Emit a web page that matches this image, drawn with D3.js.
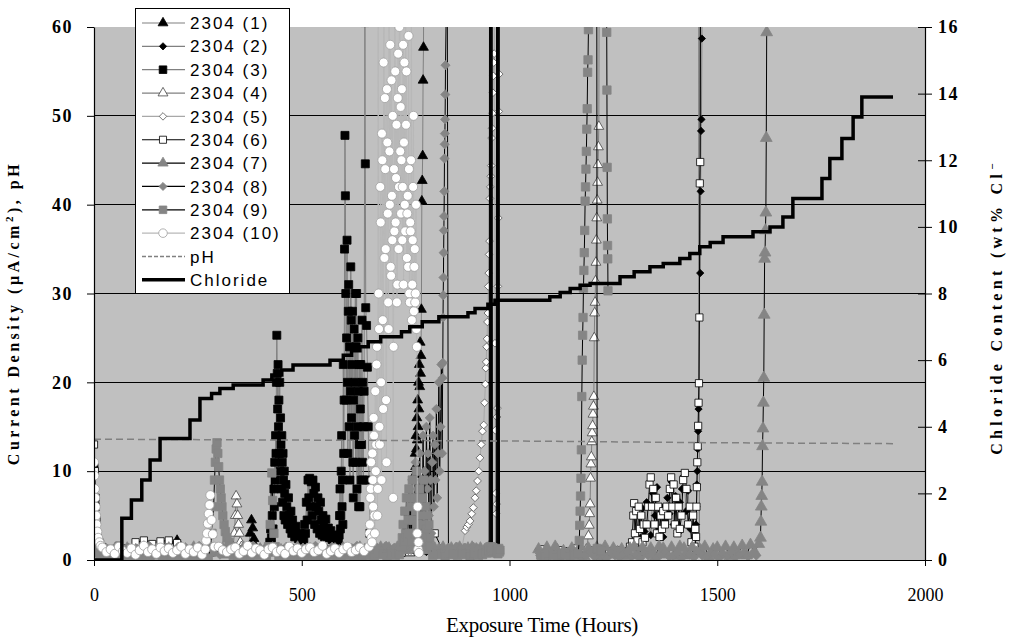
<!DOCTYPE html>
<html>
<head>
<meta charset="utf-8">
<title>2304 specimens: current density, pH and chloride content</title>
<script src="https://d3js.org/d3.v7.min.js"></script>
<style>
  body { margin: 0; background: #fff; }
  svg { display: block; }
  .serif { font-family: 'Liberation Serif', 'Times New Roman', serif; }
  .legend text { font-family: 'Liberation Sans', Arial, sans-serif; font-size: 17px; letter-spacing: 2px; }
</style>
</head>
<body>
<script>
// ---------- data (hours, current density µA/cm², pH, chloride wt%) ----------
const legendNames = ['2304 (1)', '2304 (2)', '2304 (3)', '2304 (4)', '2304 (5)', '2304 (6)',
                     '2304 (7)', '2304 (8)', '2304 (9)', '2304 (10)', 'pH', 'Chloride'];
const xTicks = [0, 500, 1000, 1500, 2000];
const yTicks = [0, 10, 20, 30, 40, 50, 60];
const yRightTicks = [0, 2, 4, 6, 8, 10, 12, 14, 16];

const chlorideHours = [0, 67, 90, 115, 135, 159, 231, 255, 283, 303, 335, 407, 428, 452, 479, 568, 600, 620, 640, 660, 690,
  740, 760, 790, 830, 900, 917, 948, 965, 1097, 1122, 1146, 1170, 1194, 1266, 1300, 1338, 1370, 1410, 1434, 1458,
  1483, 1514, 1586, 1627, 1658, 1682, 1752, 1771, 1800, 1827, 1848, 1923];
const chlorideValues = [0, 1.25, 1.8, 2.4, 3.0, 3.65, 4.2, 4.85, 5.0, 5.15, 5.25, 5.4, 5.55, 5.7, 5.85, 6.0, 6.15, 6.28, 6.4, 6.55, 6.7,
  6.85, 7.0, 7.15, 7.3, 7.42, 7.55, 7.68, 7.8, 7.9, 8.03, 8.15, 8.25, 8.3, 8.5, 8.65, 8.8, 8.9, 9.05, 9.2, 9.4,
  9.53, 9.7, 9.85, 10.0, 10.3, 10.85, 11.45, 12.05, 12.65, 13.3, 13.9, 13.9];

const phHours = [0, 500, 1000, 1500, 1923];
const phValues = [13.6, 13.5, 13.4, 13.2, 13.1];

// data logger was off between these hours
const loggerGap = [980, 1065];

// specimen 1
const s1Base = [3.0, 1.0, 0.8, 1.2, 0.9, 2.2, 0.7, 1.3, 1.0, 0.8, 1.2, 0.9, 1.1, 0.8, 1.0, 1.3, 0.9, 1.2, 1.0, 0.8]; // every 40 h from 0
const s1BumpH = [372, 376, 379, 382, 385, 390];
const s1BumpV = [1.5, 3.0, 4.5, 3.6, 2.4, 1.4];
const s1SpikeH = [765, 768, 770, 772, 773, 774, 775, 776, 777, 778, 779, 780, 781, 782, 783, 784, 785, 786, 787, 788, 789, 790, 791, 792, 793, 794];
const s1SpikeV = [1.5, 3, 6, 9.6, 12, 10.5, 14, 12.5, 16, 13.5, 18, 15, 20, 17, 22, 19.5, 24.5, 21, 23, 28.2, 40.4, 42.7, 45.5, 54, 57.7, 70];

// specimen 2
const s2BaseA = [2.0, 0.9, 1.1, 0.8, 1.2, 1.0, 0.7, 1.3, 0.9, 1.1, 0.8, 1.0, 1.2, 0.9, 1.1, 0.7, 1.0, 1.3, 0.8, 1.1, 0.9, 1.2, 1.0, 0.8]; // every 40 h from 0
const s2BaseB = [1.2, 0.9, 1.1, 1.3, 0.8, 1.0, 1.2]; // every 40 h from 1070
const s2OscH = [1315, 1320, 1325, 1330, 1335, 1340, 1345, 1350, 1355, 1360, 1365, 1370, 1375, 1380, 1385, 1390, 1395, 1400, 1405, 1410, 1415, 1420, 1425, 1430, 1435, 1440, 1445];
const s2OscV = [2.5, 5.8, 3.2, 6.5, 4.0, 2.8, 7.5, 5.0, 8.2, 3.5, 6.0, 2.6, 4.5, 7.0, 5.2, 8.8, 4.0, 7.2, 3.0, 6.5, 8.0, 9.5, 5.5, 7.8, 3.5, 2.0, 1.2];
const s2SpikeH = [1447, 1448, 1449, 1450, 1451, 1452, 1453, 1454, 1455, 1456, 1457, 1458, 1459, 1460, 1461, 1462, 1463, 1464];
const s2SpikeV = [1.5, 2.5, 4, 6, 8.5, 10, 12.5, 14.5, 17, 70, 0.8, 70, 32.3, 41.5, 48.3, 49.6, 58.7, 70];

// specimen 3
const s3StartH = [0, 3, 6, 10, 20];
const s3StartV = [10.5, 6, 3, 1.5, 1.1];
const s3Base = [1.2, 0.9, 1.1, 0.8, 1.0, 1.2, 0.9, 1.1, 1.0, 0.8]; // every 40 h from 40
const s3FirstH = [420, 423, 425, 427, 429, 431, 433, 434, 435, 436, 437, 438, 439, 440, 441, 442, 443, 444, 445, 446,
  447, 448, 449, 450, 451, 452, 453, 454, 455, 456, 457, 458, 459, 460, 462, 464, 466, 468, 470, 472,
  474, 476, 478, 480, 483, 486, 489, 492, 496, 500];
const s3FirstV = [1.2, 2, 3.5, 2.5, 5, 3.5, 8, 6, 11, 9, 14, 12, 20, 25.3, 21, 17, 22, 15, 18, 12,
  20, 10, 16, 13, 8, 14, 11, 6.5, 12, 9, 5, 10, 7.5, 4.5, 8.5, 6, 4, 7, 5, 3.5,
  5.5, 3, 4.5, 3.4, 2.6, 3.8, 2.8, 2.4, 3, 2.2];
const s3SecondH = [505, 507, 509, 511, 513, 515, 517, 519, 521, 523, 525, 527, 529, 531, 533, 535, 537, 539, 541, 543,
  545, 547, 549, 551, 553, 555, 558, 561, 564, 567, 570, 573, 576, 579, 582, 585, 588];
const s3SecondV = [2.4, 4, 3, 6.5, 4.5, 9, 7, 9.2, 6, 8.8, 5, 9, 7.5, 4, 8.2, 6, 3.5, 7, 5.5, 3,
  6.5, 4.5, 2.8, 5, 3.8, 2.6, 4.6, 3, 3.6, 2.5, 3.3, 2.3, 2.8, 2.2, 2.6, 2.2, 2.4];
const s3ThirdH = [590, 591, 592, 593, 594, 595, 596, 597, 598, 599, 600, 601, 602, 603, 604, 605, 606, 607, 608, 609,
  610, 611, 612, 613, 614, 615, 616, 617, 618, 619, 620, 621, 622, 623, 624, 625, 626, 627, 628, 629,
  630, 631, 632, 633, 634, 635, 636, 637, 638, 639, 640, 641, 642, 643, 644, 645, 646, 647, 648, 649,
  650, 652, 653, 654, 656, 658, 660, 662, 664];
const s3ThirdV = [2.8, 5, 8, 3.5, 5, 10, 14, 6, 9, 4, 22, 12, 18, 35, 47.8, 41, 30, 18, 25, 36,
  20, 12, 28, 31, 15, 24, 9, 19, 33, 27, 16, 22, 28, 11, 7, 18, 26, 14, 20, 30,
  11, 24, 30, 8, 15, 25, 19, 6, 13, 22, 6, 17, 22, 9, 13, 27, 11, 20, 9, 15,
  19, 60.5, 44.6, 28.4, 26.4, 21.7, 15, 9, 3];

// specimen 4
const s4BaseA = [1.5, 1.0, 0.8, 1.2, 0.9, 1.1, 1.3, 0.8, 1.0, 1.2, 0.9, 1.1, 0.8, 1.0, 1.2, 0.9, 1.1, 1.3, 1.0, 0.8, 1.2, 0.9, 1.1, 1.0, 0.8]; // every 40 h from 0
const s4BaseB = [1.0, 1.2, 0.9]; // every 40 h from 1075
const s4BumpH = [335, 338, 340, 342, 344, 346, 348, 350, 352, 355];
const s4BumpV = [1.5, 3, 5, 7.2, 6.3, 5, 4, 3, 2, 1.5];
const s4SpikeH = [1185, 1190, 1192, 1193, 1194, 1195, 1196, 1197, 1198, 1199, 1200, 1201, 1202, 1203, 1204, 1205, 1206, 1207, 1208, 1209,
  1210, 1211, 1212, 1213, 1214, 1215, 1216];
const s4SpikeV = [1.2, 2.7, 3.9, 5.2, 6.3, 9.2, 10.8, 11.6, 13.3, 14.3, 15.1, 16.4, 17.3, 18.4, 25, 27.8, 29, 31.4, 33.5, 36,
  38.5, 40.5, 42.5, 44.5, 46.5, 48.8, 70];

// specimen 5
const s5Base = [4.0, 1.0, 0.8, 1.2, 0.9, 1.1, 0.7, 1.0, 1.3, 0.9, 1.1, 0.8, 1.2, 1.0, 0.9, 1.1, 0.8, 1.2, 1.0, 0.9, 1.1, 0.8, 1.0]; // every 40 h from 0
const s5SpikeH = [885, 893, 897, 901, 905, 909, 913, 917, 920, 923, 926, 929, 932, 935, 938, 940, 942, 943, 944, 945,
  946, 947, 948, 949, 950, 951, 952, 953, 954, 955, 956, 957, 958, 959, 960, 961, 962, 963, 964, 965,
  966, 967, 968, 969, 970, 971, 972, 973, 974, 975, 976];
const s5SpikeV = [1.2, 3.3, 3.7, 4.0, 4.4, 5.2, 5.9, 7.0, 7.8, 8.9, 10, 11.5, 13, 14.5, 15.2, 17.7, 19.8, 21.6, 22.3, 24,
  24.9, 26.8, 27.8, 30.8, 32.3, 34.4, 35.9, 40.7, 42, 43.2, 44.4, 47.5, 48.6, 50.3, 52.6, 54.5, 56, 57, 70, 24.4,
  14.6, 7.5, 5.2, 6.3, 16.1, 17.1, 30.8, 38.5, 50.5, 54.7, 70];

// specimen 6
const s6StartH = [0, 2, 4, 6, 9, 13];
const s6StartV = [13, 10, 7, 4.5, 2.5, 1.5];
const s6BaseA = [1.4, 1.2, 1.6, 1.3, 2.0, 2.2, 1.8, 2.1, 2.2, 1.9, 1.0, 0.8, 1.2, 0.9, 1.1, 0.7, 1.0, 1.2, 0.8, 1.1,
  0.9, 1.0, 1.2, 0.8, 1.1, 0.9, 1.0, 1.2, 0.9, 1.1, 0.8, 1.0, 1.2, 0.9, 1.1, 1.0, 0.8, 1.2, 0.9, 1.1,
  3.0, 1.0, 1.2, 0.9, 1.1, 1.0, 0.8, 1.2]; // every 20 h from 20
const s6BaseB = [1.2, 0.9, 1.1, 1.0, 1.3, 0.8, 1.1, 1.2, 1.0, 1.1]; // every 20 h from 1080
const s6OscH = [1290, 1295, 1298, 1300, 1302, 1305, 1308, 1311, 1314, 1317, 1320, 1323, 1326, 1330, 1334, 1337, 1340, 1343, 1346, 1349,
  1352, 1355, 1358, 1361, 1364, 1367, 1370, 1374, 1378, 1382, 1386, 1389, 1392, 1395, 1398, 1401, 1404, 1407, 1410, 1414,
  1418, 1422, 1426, 1430, 1434, 1438, 1442, 1445, 1447, 1449, 1450, 1451, 1452, 1453, 1454, 1455, 1456, 1457, 1458, 1459, 1460];
const s6OscV = [1.5, 2, 5, 6.4, 3, 5.5, 2.2, 6, 3.5, 5, 2, 4, 2.5, 4, 6, 8.5, 9.3, 6, 8, 4,
  7, 3, 6, 2.6, 5, 3.5, 5.5, 4, 6, 5, 8, 9.3, 6, 8.5, 4, 7, 3, 6, 3.5, 5,
  9, 9.8, 8, 4, 6, 2, 5, 1.5, 3.5, 2.6, 6, 8.2, 11, 12.8, 15.1, 17.7, 19.9, 27.3, 42.4, 44.8, 70];

// specimen 7
const s7BandA = [6.0, 2.6, 1.5, 1.1, 0.8, 1.2, 0.7, 1.0, 1.3, 0.6,
  1.1, 0.9, 1.4, 0.7, 1.0, 1.2, 0.5, 0.9, 1.3, 0.8,
  1.1, 0.6, 1.2, 0.9, 1.4, 0.7, 1.0, 1.2, 0.8, 1.1,
  0.9, 1.3, 0.6, 1.0, 1.2, 0.8, 1.4, 0.7, 1.1, 0.9,
  1.2, 0.6, 1.0, 1.3, 0.8, 1.1, 0.7, 1.2, 0.9, 1.4,
  0.8, 1.0, 1.2, 0.6, 1.1, 1.3, 0.9, 0.7, 1.2, 1.0,
  1.3, 0.8, 1.1, 0.9, 1.4, 1.0, 1.2, 1.3, 1.1, 1.4,
  1.2, 1.3, 1.0, 1.4, 1.2, 1.1, 1.3, 1.4, 1.2, 1.3,
  1.1, 1.4, 1.3, 1.2, 1.4, 1.0, 1.3, 1.2, 1.4, 1.1,
  1.3, 1.4, 1.2, 1.3, 1.1, 1.4, 1.2, 1.3]; // every 10 h from 0
const s7BandB = [1.2, 0.4, 1.4, 0.6, 1.5, 0.3, 1.0, 0.7, 1.3, 0.5,
  1.5, 0.4, 1.3, 0.8, 1.4, 0.3, 1.5, 0.6, 1.3, 0.9,
  1.2, 0.4, 1.3, 1.5, 0.5, 1.4, 0.7, 1.3, 0.3, 1.5,
  1.3, 0.6, 1.4, 0.4, 1.5, 1.3, 0.5, 1.4, 0.8, 1.1,
  1.5, 0.3, 1.2, 1.4, 0.6, 1.5, 0.4, 1.4, 0.7, 1.6,
  0.5, 1.7, 0.9, 1.8]; // every 10 h from 1070
const s7SpikeH = [1604, 1605, 1606, 1607, 1608, 1609, 1610, 1611, 1612, 1613, 1614, 1615, 1616, 1617, 1618, 1619, 1620];
const s7SpikeV = [2.5, 4.3, 6, 7.2, 8.8, 12.8, 14.8, 17.7, 20.5, 27.6, 33.9, 34.6, 37.1, 39.1, 47.5, 59.4, 70];

// specimen 8
const s8BandA = [1.6, 1.0, 0.7, 1.2, 0.9, 1.5, 0.6, 1.1, 1.4, 0.8,
  1.3, 0.5, 1.0, 1.6, 0.7, 1.2, 0.9, 1.4, 0.6, 1.1,
  1.5, 0.8, 1.3, 0.5, 1.0, 1.6, 0.7, 1.2, 0.9, 1.4,
  0.6, 1.1, 1.5, 0.8, 1.3, 1.0, 0.5, 1.2, 1.6, 0.7,
  1.1, 1.4, 0.9, 1.3, 0.6, 1.0, 1.5, 0.8, 1.2, 0.7,
  1.4, 1.1, 0.9, 1.6, 1.0, 1.3, 0.8, 1.5, 1.2, 1.0,
  1.4, 1.1, 1.3, 1.6, 1.2, 1.4, 1.0, 1.5, 1.3, 1.1,
  1.6, 1.2, 1.4, 1.3, 1.5, 1.2, 1.4, 1.3, 1.5, 1.1,
  1.4, 1.2, 1.5, 1.3, 1.1, 1.4, 1.2, 1.5, 1.3, 1.4,
  1.2, 1.5, 1.3, 1.1, 1.4, 1.2, 1.5, 1.3]; // every 10 h from 3
const s8BandB = [0.5, 0.8, 0.3, 0.6, 0.9, 0.4, 0.7, 0.2, 0.6, 0.8,
  0.3, 0.5, 0.9, 0.4, 0.7, 0.6, 0.2, 0.8, 0.5, 0.3,
  0.7, 0.9, 0.4, 0.6, 0.2, 0.8, 0.5, 0.7, 0.3, 0.6,
  0.9, 0.4, 0.5, 0.8, 0.2, 0.7, 0.6, 0.3, 0.9, 0.5,
  0.4, 0.8, 0.6, 0.2, 0.7, 0.5, 0.9, 0.3, 0.6, 0.8,
  0.4, 0.7, 0.5]; // every 10 h from 1074
const s8MassH = [750, 752, 754, 756, 758, 760, 762, 764, 766, 768, 770, 772, 774, 776, 778, 780, 782, 784, 786, 788,
  790, 792, 794, 796, 798, 800, 802, 804, 806, 808, 810, 812, 814, 816, 818, 820, 822, 824, 826, 828,
  830, 832, 834, 836, 838, 839, 839.5, 840, 840.5, 841, 841.5, 842, 842.5, 843, 843.5, 844, 844.5, 845, 845.5, 846,
  850];
const s8MassV = [1.5, 3, 2, 5, 3.5, 7, 4, 2.5, 9, 5, 3, 6, 11, 4, 8, 2.5, 7, 12, 5, 9,
  3.5, 14, 6, 10, 4, 15, 8, 12, 5, 16, 9, 3, 11, 14, 6, 13, 9, 17, 7, 12,
  20, 10, 15, 22, 12, 20.5, 22.2, 27.3, 29.8, 31.8, 34.6, 37.1, 38.7, 41.5, 45.2, 46.8, 48, 49.6, 52.4, 55.7,
  70];

// specimen 9
const s9BandA = [0.8, 0.5, 0.3, 0.6, 0.4, 0.7, 0.2, 0.5, 0.6, 0.3,
  0.7, 0.4, 0.5, 0.2, 0.6, 0.8, 0.3, 0.5, 0.4, 0.7,
  0.2, 0.6, 0.5, 0.3, 0.8, 0.4, 0.6, 0.2, 0.5, 0.7,
  0.3, 0.4, 0.6, 0.5, 0.2, 0.7, 0.4, 0.3, 0.6, 0.5,
  0.8, 0.2, 0.4, 0.6, 0.3, 0.7, 0.5, 0.4, 0.2, 0.6,
  0.5, 0.3, 0.7, 0.4, 0.6, 0.2, 0.5, 0.8, 0.3, 0.4,
  0.6, 0.5, 0.2, 0.7, 0.4, 0.6, 0.5, 0.3, 0.7, 0.6,
  0.4, 0.8, 0.5, 0.6, 0.3, 0.7, 0.5, 0.8, 0.4, 0.6,
  0.7, 0.5, 0.8, 0.6, 0.4, 0.7, 0.6, 0.5, 0.8, 0.6,
  0.4, 0.7, 0.5, 0.6, 0.8, 0.5, 0.7]; // every 10 h from 5
const s9BandB = [0.6, 0.4, 0.7, 0.5, 0.3, 0.6, 0.8, 0.4, 0.5, 0.7]; // every 10 h from 1075
const s9PeakH = [280, 284, 288, 290, 292, 294, 296, 298, 300, 302, 304, 306, 308, 310, 313, 316, 320, 325, 330];
const s9PeakV = [1.5, 3, 6, 9, 11, 12.5, 13.2, 12, 10.5, 9, 8, 7, 6, 5, 4, 3.2, 2.5, 2, 1.5];
const s9SmallH = [420, 424, 428, 430, 433, 436];
const s9SmallV = [1.5, 4, 9.8, 6.7, 3, 1.5];
const s9MassH = [740, 742, 744, 746, 748, 750, 752, 754, 756, 758, 760, 762, 764, 766, 768, 770, 772, 774, 776, 778,
  780, 782, 784, 786, 788, 790, 792, 794, 796, 798, 800, 802, 804, 806, 808, 810];
const s9MassV = [1.5, 2.5, 4, 2, 5.5, 3, 7, 2.5, 4.5, 8, 3, 6, 2, 9, 4.5, 7, 3, 5.5, 10, 4,
  6.5, 2.5, 8, 5, 3, 7, 4, 9, 2.5, 6, 3.5, 5, 2, 4, 2.5, 1.5];
const s9OscH = [951, 952, 953, 954, 955, 956, 957, 958, 959, 960, 968, 969, 970, 971, 972, 973, 974, 975, 976, 977];
const s9OscV = [1, 70, 1.5, 70, 0.8, 70, 1.2, 70, 1.0, 1.4, 1.2, 70, 1.0, 70, 0.7, 70, 1.3, 70, 0.9, 1.1];
const s9ColumnH = [1168, 1169, 1170, 1171, 1172, 1173, 1174, 1175, 1176, 1177, 1178, 1179, 1180, 1181, 1182, 1183, 1184, 1185, 1186, 1187,
  1188, 1189, 1190];
const s9ColumnV = [2.2, 3.9, 5.5, 7.2, 9.2, 12.4, 18.4, 22.5, 25.3, 27.3, 30.6, 32.6, 34.6, 37.1, 40.4, 42, 44, 46, 48.5, 50.8,
  54.9, 56.3, 59.7];
const s9LateH = [1191, 1210, 1211, 1220, 1225, 1233, 1234, 1234.5, 1235, 1235.5, 1236, 1236.5, 1237];
const s9LateV = [70, 70, 1.3, 1.0, null, 70, 59.4, 52.9, 44.2, 38.4, 35.4, 33.9, 30.3];

// specimen 10
const s10StartH = [0, 1, 2, 3, 4, 5, 6, 8, 10, 13, 16];
const s10StartV = [11, 9.5, 8, 7, 6, 5, 4, 3.2, 2.5, 2, 1.6];
const s10Band = [1.4, 0.9, 1.2, 0.7, 1.5, 1.0, 0.8, 1.3, 0.6, 1.1,
  1.6, 0.9, 1.2, 0.7, 1.4, 1.0, 1.3, 0.8, 1.1, 1.5,
  0.7, 1.2, 0.9, 1.4, 0.6, 1.0, 1.3, 0.8, 1.5, 1.1,
  0.9, 1.2, 1.4, 0.7, 1.0, 1.6, 0.8, 1.3, 1.1, 0.6,
  1.2, 1.4, 0.9, 1.1, 0.7, 1.5, 1.0, 1.3, 0.8, 1.2,
  1.4, 0.9, 1.1, 1.6, 0.7, 1.0, 1.3, 0.8, 1.2, 1.5,
  0.9, 1.1, 1.4, 1.0]; // every 10 h from 20
const s10BumpH = [268, 270, 272, 274, 276, 278, 280, 283, 286, 290];
const s10BumpV = [1.2, 2.2, 3, 4.1, 5.2, 6.2, 7.3, 4.5, 2.9, 1.5];
const s10MassH = [662, 664, 666, 668, 670, 672, 674, 676, 678, 680, 682, 684, 686, 688, 690, 692, 694, 696, 698, 700,
  702, 704, 706, 708, 710, 712, 714, 716, 718, 720, 722, 724, 726, 728, 730, 732, 734, 736, 738, 740,
  742, 744, 746, 748, 750, 752, 754, 756, 758, 760, 762, 764, 766, 768, 770, 772, 774, 776, 778, 780, 782];
const s10MassV = [1.5, 4, 8, 2.5, 12, 6, 14, 3, 10, 22, 5, 70, 26, 13, 38, 9, 45, 17, 70, 52,
  35, 11, 47, 29, 70, 40, 33, 54, 36, 7, 44, 70, 38, 49, 31, 57, 42, 70, 51, 45,
  36, 58, 47, 40, 70, 55, 39, 33, 44, 29, 37, 70, 31, 42, 28, 35, 30, 26, 3, 1.2, 0.8];
const s10MassOddH = [663, 665, 667, 669, 671, 673, 675, 677, 679, 681, 683, 685, 687, 689, 691, 693, 695, 697, 699, 701,
  703, 705, 707, 709, 711, 713, 715, 717, 719, 721, 723, 725, 727, 729, 731, 733, 735, 737, 739, 741,
  743, 745, 747, 749, 751, 753, 755, 757, 759, 761, 763, 765, 767, 769, 771, 773, 775, 777, 779, 781];
const s10MassOddV = [3, 7, 11, 2, 9, 16, 5, 19, 13, 24, 8, 30, 15, 42, 20, 48, 27, 56, 34, 44,
  18, 53, 39, 26, 46, 58, 32, 41, 50, 24, 37, 55, 43, 29, 52, 35, 60, 46, 39, 53,
  42, 31, 56, 37, 49, 34, 41, 59, 30, 38, 45, 27, 36, 50, 33, 29, 40, 24, 6, 2];

// ---------- assemble ----------
const at = (start, step, vals) => vals.map((v, i) => [start + i * step, v]);
const zip = (hs, vs) => hs.map((h, i) => [h, vs[i]]);
function assemble(readings, events) {
  const spans = events.map(e => [e[0][0], e[e.length - 1][0]]);
  const kept = readings.flat().filter(([h]) => !spans.some(([a, b]) => h >= a && h <= b));
  const gapBreak = [(loggerGap[0] + loggerGap[1]) / 2, null];
  return kept.concat(events.flat(), [gapBreak]).sort((a, b) => a[0] - b[0]);
}

const seriesData = [
  assemble([at(0, 40, s1Base)], [zip(s1BumpH, s1BumpV), zip(s1SpikeH, s1SpikeV)]),
  assemble([at(0, 40, s2BaseA), at(1070, 40, s2BaseB)], [zip(s2OscH, s2OscV), zip(s2SpikeH, s2SpikeV)]),
  assemble([at(40, 40, s3Base)], [zip(s3StartH, s3StartV), zip(s3FirstH, s3FirstV), zip(s3SecondH, s3SecondV), zip(s3ThirdH, s3ThirdV)]),
  assemble([at(0, 40, s4BaseA), at(1075, 40, s4BaseB)], [zip(s4BumpH, s4BumpV), zip(s4SpikeH, s4SpikeV)]),
  assemble([at(0, 40, s5Base)], [zip(s5SpikeH, s5SpikeV)]),
  assemble([at(20, 20, s6BaseA), at(1080, 20, s6BaseB)], [zip(s6StartH, s6StartV), zip(s6OscH, s6OscV)]),
  assemble([at(0, 10, s7BandA), at(1070, 10, s7BandB)], [zip(s7SpikeH, s7SpikeV)]),
  assemble([at(3, 10, s8BandA), at(1074, 10, s8BandB)], [zip(s8MassH, s8MassV)]),
  assemble([at(5, 10, s9BandA), at(1075, 10, s9BandB)], [zip(s9PeakH, s9PeakV), zip(s9SmallH, s9SmallV),
    zip(s9MassH, s9MassV), zip(s9OscH, s9OscV), zip(s9ColumnH, s9ColumnV), zip(s9LateH, s9LateV)]),
  assemble([at(20, 10, s10Band)], [zip(s10StartH, s10StartV), zip(s10BumpH, s10BumpV),
    zip(s10MassH, s10MassV), zip(s10MassOddH, s10MassOddV)])
];

// ---------- styles ----------
const diamond = d3.symbolDiamond2 || d3.symbolDiamond;
const seriesStyle = [
  { line: '#808080', shape: d3.symbolTriangle, size: 42, fill: '#000', stroke: '#000' },
  { line: '#808080', shape: diamond, size: 34, fill: '#000', stroke: '#000' },
  { line: '#808080', shape: d3.symbolSquare, size: 64, fill: '#000', stroke: '#000' },
  { line: '#808080', shape: d3.symbolTriangle, size: 42, fill: '#fff', stroke: '#444' },
  { line: '#a8a8a8', shape: diamond, size: 38, fill: '#fff', stroke: '#555' },
  { line: '#000', shape: d3.symbolSquare, size: 52, fill: '#fff', stroke: '#000' },
  { line: '#000', shape: d3.symbolTriangle, size: 60, fill: '#858585', stroke: '#858585' },
  { line: '#000', shape: diamond, size: 54, fill: '#858585', stroke: '#858585' },
  { line: '#000', shape: d3.symbolSquare, size: 70, fill: '#858585', stroke: '#858585' },
  { line: '#b8b8b8', shape: d3.symbolCircle, size: 64, fill: '#fff', stroke: '#a0a0a0' }
];
const legendMarkerSize = [42, 34, 58, 42, 36, 50, 46, 42, 58, 58];

// ---------- chart ----------
const width = 1009, height = 637;
const plot = { left: 94, right: 925, top: 27, bottom: 560 };

const svg = d3.select('body').append('svg').attr('width', width).attr('height', height);

const x = d3.scaleLinear().domain([0, 2000]).range([plot.left, plot.right]);
const y = d3.scaleLinear().domain([0, 60]).range([plot.bottom, plot.top]);
const yRight = d3.scaleLinear().domain([0, 16]).range([plot.bottom, plot.top]);

svg.append('defs').append('clipPath').attr('id', 'plotClip')
  .append('rect').attr('x', plot.left).attr('y', plot.top)
  .attr('width', plot.right - plot.left).attr('height', plot.bottom - plot.top);

svg.append('rect').attr('x', plot.left).attr('y', plot.top)
  .attr('width', plot.right - plot.left).attr('height', plot.bottom - plot.top)
  .attr('fill', '#c0c0c0');

// gridlines
svg.append('g').selectAll('line').data(yTicks.filter(t => t > 0 && t < 60)).join('line')
  .attr('x1', plot.left).attr('x2', plot.right)
  .attr('y1', d => y(d)).attr('y2', d => y(d))
  .attr('stroke', '#000').attr('stroke-width', 1).attr('shape-rendering', 'crispEdges');

const area = svg.append('g').attr('clip-path', 'url(#plotClip)');
const line = d3.line().defined(d => d[1] != null).x(d => x(d[0])).y(d => y(d[1]));

seriesData.forEach((pts, i) => {
  const st = seriesStyle[i];
  const g = area.append('g');
  g.append('path').datum(pts).attr('d', line)
    .attr('fill', 'none').attr('stroke', st.line).attr('stroke-width', 1);
  g.selectAll('path.mark').data(pts.filter(d => d[1] != null && d[1] <= 61)).join('path')
    .attr('class', 'mark')
    .attr('transform', d => `translate(${x(d[0])},${y(d[1])})`)
    .attr('d', d3.symbol(st.shape, st.size))
    .attr('fill', st.fill).attr('stroke', st.stroke).attr('stroke-width', 0.8);
});

// pH
area.append('path').datum(zip(phHours, phValues))
  .attr('d', line).attr('fill', 'none')
  .attr('stroke', '#808080').attr('stroke-width', 1.5).attr('stroke-dasharray', '7,4');

// chloride, secondary axis
area.append('path').datum(zip(chlorideHours, chlorideValues))
  .attr('d', d3.line().curve(d3.curveStepAfter).x(d => x(d[0])).y(d => yRight(d[1])))
  .attr('fill', 'none').attr('stroke', '#000').attr('stroke-width', 3.5);

// axes
const axisLeft = svg.append('g').attr('transform', `translate(${plot.left},0)`)
  .call(d3.axisLeft(y).tickValues(yTicks).tickSize(7).tickSizeOuter(0).tickPadding(14));
const axisRight = svg.append('g').attr('transform', `translate(${plot.right},0)`)
  .call(d3.axisRight(yRight).tickValues(yRightTicks).tickSize(7).tickSizeOuter(0).tickPadding(6));
axisRight.selectAll('.tick line').attr('x1', -7);
const axisBottom = svg.append('g').attr('transform', `translate(0,${plot.bottom})`)
  .call(d3.axisBottom(x).tickValues(xTicks).tickFormat(d3.format('d')).tickSize(6).tickSizeOuter(0).tickPadding(22));

[axisLeft, axisRight, axisBottom].forEach(a => {
  a.select('.domain').attr('stroke', '#000').attr('stroke-width', 1.2);
  a.selectAll('.tick line').attr('stroke', '#000');
  a.selectAll('text').attr('class', 'serif').attr('fill', '#000').attr('font-size', 18);
});
axisLeft.selectAll('text').attr('font-weight', 'bold').attr('letter-spacing', 1.5);
axisRight.selectAll('text').attr('font-weight', 'bold').attr('letter-spacing', 1.5);

// axis titles
svg.append('text').attr('class', 'serif')
  .attr('transform', 'translate(19,313) rotate(-90)')
  .attr('text-anchor', 'middle').attr('font-weight', 'bold').attr('font-size', 16).attr('letter-spacing', 3.5)
  .call(t => {
    t.append('tspan').text('Current Density (μA/cm');
    t.append('tspan').attr('baseline-shift', 'super').attr('font-size', 11).text('2');
    t.append('tspan').text('), pH');
  });

svg.append('text').attr('class', 'serif')
  .attr('transform', 'translate(1002,307) rotate(-90)')
  .attr('text-anchor', 'middle').attr('font-weight', 'bold').attr('font-size', 16).attr('letter-spacing', 4.3)
  .call(t => {
    t.append('tspan').text('Chloride Content (wt% Cl');
    t.append('tspan').attr('baseline-shift', 'super').attr('font-size', 11).text('−');
  });

svg.append('text').attr('class', 'serif')
  .attr('x', 542).attr('y', 632).attr('text-anchor', 'middle')
  .attr('font-size', 21).attr('letter-spacing', -0.3)
  .text('Exposure Time (Hours)');

// legend
const legend = svg.append('g').attr('class', 'legend');
legend.append('rect').attr('x', 135.5).attr('y', 8.5).attr('width', 154).attr('height', 285)
  .attr('fill', '#fff').attr('stroke', '#000').attr('stroke-width', 1);
const rowY = i => 23 + i * 23.35;
legendNames.forEach((name, i) => {
  const row = legend.append('g').attr('transform', `translate(0,${rowY(i)})`);
  if (i < 10) {
    const st = seriesStyle[i];
    row.append('line').attr('x1', 142).attr('x2', 185).attr('stroke', st.line).attr('stroke-width', 1.2);
    row.append('path').attr('transform', 'translate(163,0)')
      .attr('d', d3.symbol(st.shape, legendMarkerSize[i]))
      .attr('fill', st.fill).attr('stroke', st.stroke).attr('stroke-width', 0.8);
  } else if (name === 'pH') {
    row.append('line').attr('x1', 142).attr('x2', 185)
      .attr('stroke', '#808080').attr('stroke-width', 1.5).attr('stroke-dasharray', '4,2');
  } else {
    row.append('line').attr('x1', 142).attr('x2', 185).attr('stroke', '#000').attr('stroke-width', 3.5);
  }
  row.append('text').attr('x', 190).attr('dy', '0.36em').text(name);
});
</script>
</body>
</html>
